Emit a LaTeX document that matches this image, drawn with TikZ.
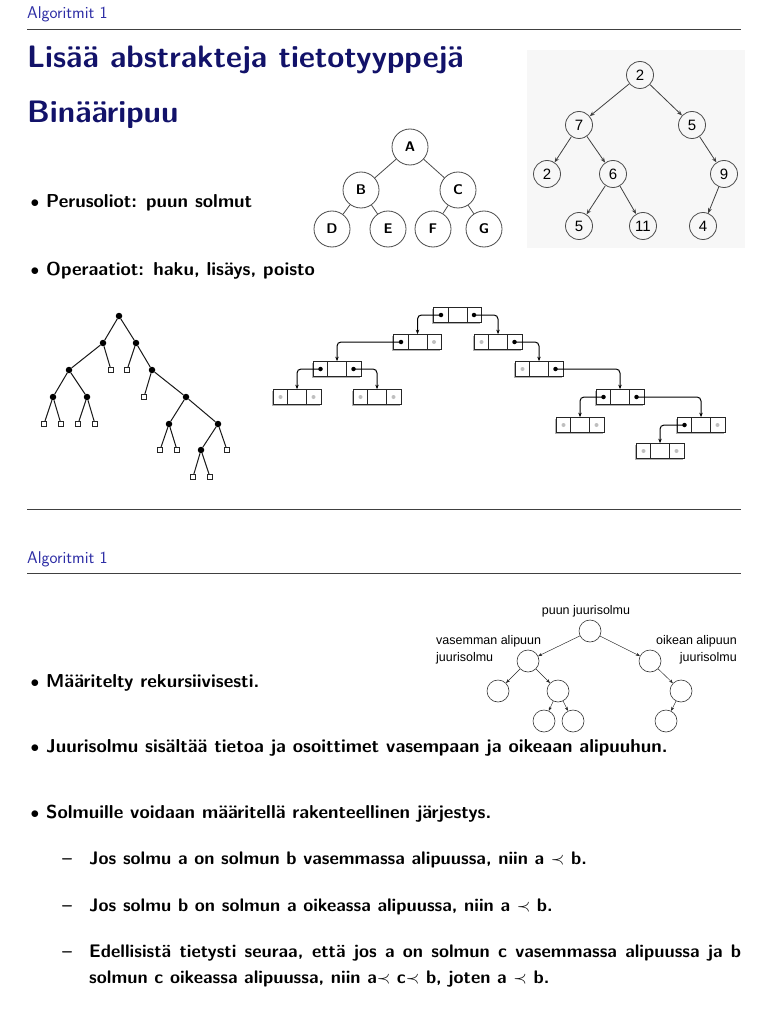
\documentclass[tikz,border=0pt]{standalone}
\usepackage{fontspec}
\newfontfamily\helv{Liberation Sans}
\usetikzlibrary{arrows.meta}
\definecolor{navy}{RGB}{18,18,105}
\definecolor{hdrblue}{RGB}{45,45,165}
\newcommand\lbox[5]{%
  \fill[black!30] (#2-24-1.3,#3-7.5+1.3) rectangle (#2+24-1.3,#3+7.5+1.3);
  \node[lcell] (#1) at (#2,#3) {};
  \draw[black!85,line width=.6pt] ([xshift=15pt]#1.north west) -- ([xshift=15pt]#1.south west)
        ([xshift=-15pt]#1.north east) -- ([xshift=-15pt]#1.south east);
  \node[#4] (#1l) at (#2-16.5,#3) {};
  \node[#5] (#1r) at (#2+16.5,#3) {};
}
\begin{document}
\begin{tikzpicture}[x=1pt,y=-1pt,
  hdr/.style={anchor=west,inner sep=0pt,font=\sffamily\fontsize{17}{20}\selectfont,text=hdrblue},
  ttl/.style={anchor=west,inner sep=0pt,font=\sffamily\bfseries\fontsize{31}{36}\selectfont,text=navy},
  body/.style={anchor=base west,inner sep=0pt,font=\sffamily\bfseries\fontsize{18.7}{22}\selectfont},
  sub/.style={anchor=base west,inner sep=0pt,font=\sffamily\bfseries\fontsize{18.2}{22}\selectfont},
  bul/.style={anchor=base,inner sep=0pt,font=\fontsize{18.7}{22}\selectfont},
  hrule/.style={line width=0.8pt,black!75},
  abc/.style={circle,draw=black!70,line width=0.8pt,minimum size=36pt,inner sep=0pt,font=\sffamily\bfseries\fontsize{14}{14}\selectfont},
  num/.style={circle,draw=black!70,line width=0.8pt,minimum size=27pt,inner sep=0pt,font=\helv\fontsize{15}{15}\selectfont},
  narr/.style={-{Stealth[length=5pt,width=4pt]},line width=0.8pt,black!75},
  dot/.style={circle,fill=black,minimum size=6.5pt,inner sep=0pt},
  leaf/.style={rectangle,draw=black!85,fill=white,line width=0.7pt,minimum size=5.5pt,inner sep=0pt},
  tedge/.style={line width=1pt,black!90},
  lcell/.style={rectangle,draw=black!85,fill=white,line width=0.7pt,minimum width=48pt,minimum height=15pt,inner sep=0pt},
  pt/.style={circle,fill=black,minimum size=4.5pt,inner sep=0pt},
  nil/.style={circle,fill=black!25,minimum size=4pt,inner sep=0pt},
  ptr/.style={-{Stealth[length=4.5pt,width=3.5pt]},line width=1pt,black,rounded corners=4pt},
  sc/.style={circle,draw=black!80,line width=0.6pt,minimum size=22pt,inner sep=0pt},
  sarr/.style={-{Stealth[length=4pt,width=3pt]},line width=0.45pt,black!85},
  lab/.style={inner sep=0pt,font=\helv\fontsize{12.5}{17}\selectfont}
]
\useasboundingbox (0,0) rectangle (768,1024);
\fill[white] (0,0) rectangle (768,1024);

% ---------- slide 1 ----------
\node[hdr] (h1) at (27,14) {Algoritmit 1};
\coordinate (r1a) at (27,29); \coordinate (r1b) at (741,29);
\draw[hrule] (r1a) -- (r1b);
\node[ttl] (t1) at (27,60) {Lisää abstrakteja tietotyyppejä};
\node[ttl] (t2) at (27,115) {Binääripuu};
\node[bul] (bu1) at (35,208) {$\bullet$};
\node[body] (p1) at (46,208) {Perusoliot: puun solmut};
\node[bul] (bu2) at (35,275) {$\bullet$};
\node[body] (p2) at (46,275) {Operaatiot: haku, lisäys, poisto};

% tree A-G
\node[abc] (A) at (410,147) {A};
\node[abc] (B) at (361,190) {B};
\node[abc] (C) at (458,190) {C};
\node[abc] (D) at (332,229) {D};
\node[abc] (E) at (388,229) {E};
\node[abc] (F) at (433,229) {F};
\node[abc] (G) at (484,229) {G};
\draw[black!70,line width=0.8pt] (A)--(B) (A)--(C) (B)--(D) (B)--(E) (C)--(F) (C)--(G);

% numeric tree
\fill[black!3] (527,50) rectangle (745,248);
\node[num] (n2) at (640,75) {2};
\node[num] (n7) at (579,125) {7};
\node[num] (n5) at (692,125) {5};
\node[num] (n2b) at (547,174) {2};
\node[num] (n6) at (613,174) {6};
\node[num] (n9) at (724,174) {9};
\node[num] (n5b) at (579,226) {5};
\node[num] (n11) at (643,226) {11};
\node[num] (n4) at (703,226) {4};
\draw[narr] (n2)--(n7); \draw[narr] (n2)--(n5);
\draw[narr] (n7)--(n2b); \draw[narr] (n7)--(n6);
\draw[narr] (n5)--(n9);
\draw[narr] (n6)--(n5b); \draw[narr] (n6)--(n11);
\draw[narr] (n9)--(n4);

% small dot tree
\node[dot] (s0) at (119,316) {};
\node[dot] (s1) at (103,343) {};
\node[dot] (s2) at (136,343) {};
\node[dot] (s3) at (69,370) {};
\node[leaf] (s4) at (111,370) {};
\node[leaf] (s5) at (127,370) {};
\node[dot] (s6) at (152,370) {};
\node[dot] (s7) at (53,397) {};
\node[dot] (s8) at (87,397) {};
\node[leaf] (s9) at (44,424) {};
\node[leaf] (s10) at (61,424) {};
\node[leaf] (s11) at (78,424) {};
\node[leaf] (s12) at (95,424) {};
\node[leaf] (s13) at (144,397) {};
\node[dot] (s14) at (186,397) {};
\node[dot] (s15) at (169,424) {};
\node[dot] (s16) at (218,424) {};
\node[leaf] (s17) at (160,450) {};
\node[leaf] (s18) at (177,450) {};
\node[dot] (s19) at (201,450) {};
\node[leaf] (s20) at (227,450) {};
\node[leaf] (s21) at (193,477) {};
\node[leaf] (s22) at (210,477) {};
\draw[tedge] (s0)--(s1) (s0)--(s2) (s1)--(s3) (s1)--(s4) (s2)--(s5) (s2)--(s6)
  (s3)--(s7) (s3)--(s8) (s7)--(s9) (s7)--(s10) (s8)--(s11) (s8)--(s12)
  (s6)--(s13) (s6)--(s14) (s14)--(s15) (s14)--(s16) (s15)--(s17) (s15)--(s18)
  (s16)--(s19) (s16)--(s20) (s19)--(s21) (s19)--(s22);

% linked boxes
\lbox{b0}{457.5}{315}{pt}{pt}
\lbox{bL}{417.5}{342}{pt}{nil}
\lbox{bR}{498}{342}{nil}{pt}
\lbox{bLL}{337}{369}{pt}{pt}
\lbox{bRR}{539}{369}{nil}{pt}
\lbox{bLLL}{297}{397}{nil}{nil}
\lbox{bLLR}{377}{397}{nil}{nil}
\lbox{bRRR}{620}{397}{pt}{pt}
\lbox{bRRRL}{580}{425}{nil}{nil}
\lbox{bRRRR}{701}{425}{pt}{nil}
\lbox{bRRRRL}{660}{451}{nil}{nil}
\draw[ptr] (b0l.center) -| (bL.north);
\draw[ptr] (b0r.center) -| (bR.north);
\draw[ptr] (bLl.center) -| (bLL.north);
\draw[ptr] (bRr.center) -| (bRR.north);
\draw[ptr] (bLLl.center) -| (bLLL.north);
\draw[ptr] (bLLr.center) -| (bLLR.north);
\draw[ptr] (bRRr.center) -| (bRRR.north);
\draw[ptr] (bRRRl.center) -| (bRRRL.north);
\draw[ptr] (bRRRr.center) -| (bRRRR.north);
\draw[ptr] (bRRRRl.center) -| (bRRRRL.north);

\coordinate (r2a) at (27,509); \coordinate (r2b) at (741,509);
\draw[hrule] (r2a) -- (r2b);

% ---------- slide 2 ----------
\node[hdr] (h2) at (27,559) {Algoritmit 1};
\coordinate (r3a) at (27,573); \coordinate (r3b) at (741,573);
\draw[hrule] (r3a) -- (r3b);

\node[sc] (q0) at (590,631) {};
\node[sc] (q1) at (528,661) {};
\node[sc] (q2) at (650,661) {};
\node[sc] (q3) at (498,691) {};
\node[sc] (q4) at (558,691) {};
\node[sc] (q5) at (681,691) {};
\node[sc] (q6) at (544,721) {};
\node[sc] (q7) at (573,721) {};
\node[sc] (q8) at (666,721) {};
\draw[sarr] (q0)--(q1); \draw[sarr] (q0)--(q2);
\draw[sarr] (q1)--(q3); \draw[sarr] (q1)--(q4);
\draw[sarr] (q2)--(q5);
\draw[sarr] (q4)--(q6); \draw[sarr] (q4)--(q7);
\draw[sarr] (q5)--(q8);
\node[lab] (l0) at (586,611) {puun juurisolmu};
\node[lab,anchor=west,align=left] (l1) at (436,650) {vasemman alipuun\\juurisolmu};
\node[lab,anchor=east,align=right] (l2) at (737,650) {oikean alipuun\\juurisolmu};

\node[bul] (bu3) at (35,687) {$\bullet$};
\node[body] (p3) at (46,687) {Määritelty rekursiivisesti.};
\node[bul] (bu4) at (35,752) {$\bullet$};
\node[body] (p4) at (46,752) {Juurisolmu sisältää tietoa ja osoittimet vasempaan ja oikeaan alipuuhun.};
\node[bul] (bu5) at (35,818) {$\bullet$};
\node[body] (p5) at (46,818) {Solmuille voidaan määritellä rakenteellinen järjestys.};

\node[sub] (d1) at (62,864) {--};
\node[sub] (e1) at (89,864) {Jos solmu a on solmun b vasemmassa alipuussa, niin a $\prec$ b.};
\node[sub] (d2) at (62,911) {--};
\node[sub] (e2) at (89,911) {Jos solmu b on solmun a oikeassa alipuussa, niin a $\prec$ b.};
\node[sub] (d3) at (62,957) {--};
\node[sub] (e3) at (89,957) {\makebox[652pt][s]{Edellisistä tietysti seuraa, että jos a on solmun c vasemmassa alipuussa ja b}};
\node[sub] (e4) at (89,983) {solmun c oikeassa alipuussa, niin a$\prec$ c$\prec$ b, joten a $\prec$ b.};
\end{tikzpicture}
\end{document}
